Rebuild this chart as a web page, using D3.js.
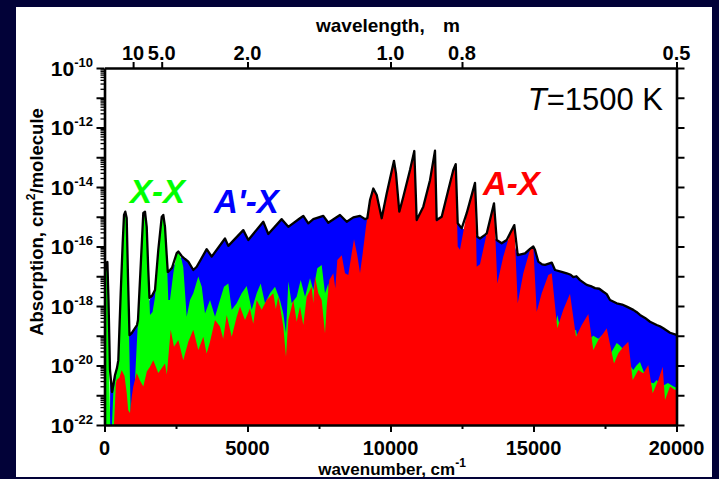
<!DOCTYPE html>
<html><head><meta charset="utf-8">
<script src="https://cdn.jsdelivr.net/npm/d3@7"></script>
<style>
html,body{margin:0;padding:0;background:#020238;}
svg{display:block;}
text{font-family:"Liberation Sans",Arial,Helvetica,sans-serif;}
</style></head><body>
<svg id="chart" width="719" height="479"></svg>
<script>
// [wavenumber cm^-1, log10(absorption cm^2/molecule)]
const totalAbs = [[10,-16.9],[52,-16.56],[101,-16.52],[140,-17.8],[192,-20.15],[262,-20.89],[367,-20.32],[437,-20.08],[483,-19.82],[566,-17.57],[636,-15.88],[682,-14.94],[727,-14.83],[776,-15.04],[822,-17.03],[874,-18.98],[951,-18.91],[1066,-18.74],[1136,-18.64],[1171,-18.47],[1276,-16.45],[1357,-14.87],[1416,-14.83],[1476,-15.34],[1531,-16.79],[1573,-17.73],[1661,-17.66],[1766,-17.46],[1881,-16.11],[2000,-15.01],[2056,-14.94],[2115,-15.34],[2175,-16.29],[2213,-16.86],[2290,-16.79],[2360,-16.72],[2525,-16.22],[2580,-16.17],[2699,-16.32],[2815,-16.42],[2930,-16.51],[3105,-16.79],[3224,-16.68],[3573,-16.09],[3748,-16.34],[4213,-15.73],[4329,-15.98],[4853,-15.45],[5028,-15.78],[5552,-15.17],[5727,-15.58],[6196,-15.08],[6427,-15.34],[6836,-15.05],[6951,-14.97],[7126,-15.22],[7301,-15.08],[7650,-14.97],[7825,-15.2],[8060,-15.05],[8234,-14.94],[8469,-15.17],[8699,-15.02],[8934,-14.97],[9109,-15.08],[9189,-15.05],[9283,-14.44],[9399,-14.05],[9518,-14.27],[9692,-15.05],[9867,-14.22],[10122,-13.12],[10192,-13.54],[10308,-14.83],[10448,-14.33],[10682,-13.43],[10832,-12.79],[10916,-15.11],[11147,-14.66],[11381,-13.77],[11556,-12.78],[11615,-15.11],[11790,-15.0],[12021,-14.1],[12196,-13.43],[12280,-13.23],[12350,-15.22],[12490,-15.39],[12664,-14.88],[12955,-13.86],[13035,-15.67],[13129,-15.73],[13304,-15.61],[13364,-15.56],[13619,-14.55],[13713,-15.78],[13888,-15.89],[14063,-15.78],[14178,-15.56],[14329,-15.28],[14448,-16.29],[14703,-16.23],[14878,-16.08],[14993,-16.0],[15052,-16.11],[15168,-16.51],[15300,-16.6],[15402,-16.62],[15637,-16.54],[15752,-16.79],[15986,-16.85],[16161,-16.9],[16300,-16.95],[16392,-17.03],[16500,-17.0],[16626,-17.13],[16861,-17.29],[17000,-17.33],[17151,-17.4],[17300,-17.42],[17441,-17.52],[17560,-17.6],[17675,-17.8],[17909,-17.91],[18100,-17.95],[18259,-18.02],[18490,-18.13],[18600,-18.2],[18724,-18.3],[18900,-18.4],[19074,-18.53],[19308,-18.64],[19420,-18.68],[19538,-18.75],[19773,-18.9],[20000,-18.97]];

const apxAbs = [[190,-22.0],[200,-20.3],[262,-20.89],[367,-20.32],[483,-19.95],[600,-19.6],[750,-19.25],[874,-18.98],[951,-18.91],[1066,-18.74],[1241,-18.5],[1416,-18.2],[1573,-17.8],[1766,-17.46],[1881,-17.3],[2000,-17.15],[2115,-17.0],[2231,-16.86],[2360,-16.72],[2525,-16.5],[2699,-16.35],[2815,-16.42],[2930,-16.51],[3105,-16.79],[3224,-16.68],[3573,-16.09],[3748,-16.34],[4213,-15.73],[4329,-15.98],[4853,-15.45],[5028,-15.78],[5552,-15.17],[5727,-15.58],[6196,-15.08],[6427,-15.34],[6836,-15.05],[6951,-14.97],[7126,-15.22],[7301,-15.08],[7650,-14.97],[7825,-15.2],[8060,-15.05],[8234,-14.94],[8469,-15.17],[8699,-15.02],[8934,-14.97],[9109,-15.08],[9189,-15.05],[9283,-15.05],[9518,-15.1],[9692,-15.08],[9867,-14.95],[10122,-14.9],[10308,-14.9],[10682,-15.0],[10916,-15.11],[11381,-15.05],[11615,-15.11],[11790,-15.03],[12196,-15.1],[12350,-15.22],[12490,-15.39],[12664,-15.45],[12955,-15.55],[13035,-15.67],[13129,-15.73],[13304,-15.61],[13619,-15.72],[13713,-15.78],[13888,-15.89],[14063,-15.78],[14329,-15.95],[14448,-16.29],[14703,-16.23],[14878,-16.1],[14993,-16.06],[15052,-16.11],[15168,-16.51],[15300,-16.6],[15402,-16.62],[15637,-16.54],[15752,-16.79],[15986,-16.85],[16161,-16.9],[16300,-16.95],[16392,-17.03],[16500,-17.0],[16626,-17.13],[16861,-17.29],[17000,-17.33],[17151,-17.4],[17300,-17.42],[17441,-17.52],[17560,-17.6],[17675,-17.8],[17909,-17.91],[18100,-17.95],[18259,-18.02],[18490,-18.13],[18600,-18.2],[18724,-18.3],[18900,-18.4],[19074,-18.53],[19308,-18.64],[19420,-18.68],[19538,-18.75],[19773,-18.9],[20000,-18.97]];

const xxAbs = [[0,-22.0],[20,-16.8],[52,-16.6],[101,-16.6],[130,-17.5],[160,-20.0],[200,-22.0],[260,-22.0],[308,-20.92],[483,-19.82],[566,-17.57],[636,-15.88],[682,-14.94],[727,-14.83],[776,-15.04],[822,-17.03],[867,-19.38],[916,-21.6],[951,-21.6],[1066,-20.5],[1171,-18.47],[1276,-16.45],[1357,-14.87],[1416,-14.83],[1476,-15.34],[1531,-16.79],[1591,-18.3],[1680,-18.2],[1766,-17.7],[1881,-16.11],[2000,-15.01],[2056,-14.94],[2115,-15.34],[2175,-16.29],[2231,-17.8],[2290,-17.8],[2406,-16.9],[2525,-16.22],[2580,-16.17],[2699,-16.45],[2755,-16.7],[2874,-18.36],[2990,-17.8],[3105,-17.57],[3280,-17.01],[3400,-17.35],[3514,-18.25],[3689,-17.8],[3864,-18.36],[4038,-17.8],[4178,-17.35],[4329,-17.24],[4448,-18.13],[4622,-17.91],[4797,-17.57],[4972,-17.33],[5147,-18.13],[5322,-17.57],[5461,-17.24],[5612,-17.91],[5787,-17.57],[5962,-17.35],[6136,-17.8],[6252,-18.25],[6346,-18.92],[6427,-17.18],[6545,-17.91],[6720,-17.69],[6860,-17.13],[7011,-17.69],[7185,-17.07],[7301,-17.46],[7441,-16.73],[7594,-16.62],[7710,-17.57],[7825,-17.24],[7885,-18.02],[8119,-17.8],[8500,-18.3],[9000,-18.5],[10000,-18.3],[11000,-18.5],[12000,-18.6],[13000,-18.7],[14000,-18.9],[15000,-19.2],[15700,-19.0],[15832,-18.3],[15900,-18.6],[16200,-19.0],[16486,-18.8],[16600,-19.4],[17091,-19.0],[17266,-19.1],[17441,-18.95],[17560,-19.0],[17700,-19.6],[17909,-19.24],[18000,-19.31],[18140,-19.45],[18300,-19.9],[18490,-20.15],[18600,-20.0],[18724,-19.88],[18850,-20.2],[19000,-20.55],[19200,-20.6],[19308,-20.49],[19500,-20.7],[19700,-20.59],[19900,-20.71],[20000,-20.75]];

const axAbs = [[330,-22.0],[400,-20.6],[427,-20.49],[520,-20.4],[601,-20.15],[700,-20.35],[776,-20.92],[830,-21.5],[892,-21.6],[960,-21.0],[1007,-20.71],[1126,-20.25],[1240,-20.5],[1357,-20.71],[1480,-20.2],[1591,-20.04],[1706,-19.82],[1881,-20.25],[2115,-19.93],[2180,-20.3],[2250,-19.5],[2315,-18.8],[2430,-19.37],[2580,-19.14],[2755,-19.82],[2930,-19.2],[3105,-18.8],[3280,-19.48],[3455,-19.03],[3570,-19.6],[3689,-19.2],[3864,-18.47],[4038,-18.69],[4150,-19.1],[4273,-18.3],[4448,-19.03],[4622,-18.36],[4738,-18.02],[4913,-18.47],[5087,-18.08],[5200,-18.6],[5322,-17.8],[5496,-18.13],[5671,-17.8],[5902,-17.57],[5990,-18.1],[6077,-17.69],[6136,-18.02],[6252,-18.69],[6346,-19.71],[6427,-18.47],[6601,-17.8],[6720,-18.53],[6836,-18.02],[6951,-18.64],[7070,-17.69],[7245,-17.35],[7300,-17.9],[7360,-17.01],[7476,-17.57],[7594,-17.8],[7710,-18.92],[7769,-18.02],[7860,-17.13],[8000,-16.9],[8070,-17.4],[8140,-16.45],[8294,-16.29],[8409,-16.9],[8525,-16.96],[8643,-16.23],[8724,-15.76],[8839,-16.29],[8934,-16.9],[9028,-16.23],[9143,-15.33],[9283,-14.44],[9399,-14.05],[9518,-14.3],[9692,-15.05],[9867,-14.22],[10122,-13.12],[10192,-13.54],[10308,-14.83],[10448,-14.33],[10682,-13.43],[10832,-12.79],[10916,-15.17],[11147,-14.66],[11381,-13.77],[11556,-12.78],[11615,-15.17],[11790,-15.0],[12021,-14.1],[12196,-13.43],[12280,-13.23],[12350,-16.0],[12430,-16.11],[12664,-14.88],[12955,-13.86],[13014,-16.68],[13129,-16.6],[13364,-15.56],[13619,-14.55],[13734,-17.24],[13944,-16.34],[14178,-15.56],[14329,-15.28],[14448,-17.91],[14643,-16.9],[14878,-16.11],[14993,-16.0],[15112,-18.19],[15287,-17.57],[15518,-16.96],[15637,-16.9],[15832,-18.75],[16042,-18.13],[16276,-17.59],[16486,-19.03],[16686,-18.64],[16917,-18.27],[17091,-19.48],[17266,-19.14],[17441,-18.92],[17560,-18.75],[17815,-19.93],[17965,-19.59],[18140,-19.37],[18315,-19.2],[18469,-20.49],[18664,-20.15],[18839,-20.26],[19014,-19.98],[19168,-20.93],[19364,-20.49],[19518,-20.04],[19598,-21.16],[19773,-20.71],[19948,-20.82],[20000,-20.8]];

const wavenumberTicks = [0, 5000, 10000, 15000, 20000];
const wavenumberMinor = [2500, 7500, 12500, 17500];
const wavelengthTicks = [10, 5, 2, 1, 0.8, 0.5];
const wavelengthLabels = ["10", "5.0", "2.0", "1.0", "0.8", "0.5"];
const decadeExps = d3.range(-22, -9);
const labelExps = [-22, -20, -18, -16, -14, -12, -10];

const svg = d3.select("#chart");
const W = 719, H = 479;
svg.append("rect").attr("width", W).attr("height", H).attr("fill", "#020238");
const defs = svg.append("defs");
defs.append("clipPath").attr("id", "panelClip").append("rect")
  .attr("x", 16).attr("y", 7).attr("width", 696).attr("height", 470);
const panel = svg.append("g").attr("clip-path", "url(#panelClip)");
panel.append("rect").attr("x", 16).attr("y", 7).attr("width", 696).attr("height", 470).attr("fill", "#ffffff");

const x = d3.scaleLinear().domain([0, 20000]).range([104.5, 676.5]);
const y = d3.scaleLog().domain([1e-22, 1e-10]).range([425, 68]);
const val = d => Math.pow(10, d[1]);

defs.append("clipPath").attr("id", "plotClip").append("rect")
  .attr("x", 104.5).attr("y", 68).attr("width", 572).attr("height", 357);
const plot = panel.append("g").attr("clip-path", "url(#plotClip)");

const area = d3.area().x(d => x(d[0])).y0(y(1e-22)).y1(d => y(val(d)));
const line = d3.line().x(d => x(d[0])).y(d => y(val(d)));

plot.append("path").datum(apxAbs).attr("d", area).attr("fill", "#0000ff");
plot.append("path").datum(xxAbs).attr("d", area).attr("fill", "#00ff00");
plot.append("path").datum(axAbs).attr("d", area).attr("fill", "#ff0000");
plot.append("path").datum(totalAbs).attr("d", line).attr("fill", "none")
  .attr("stroke", "#000").attr("stroke-width", 2.3).attr("stroke-linejoin", "round");

// axes
const decades = decadeExps.map(e => Math.pow(10, e));
const minors = [];
decadeExps.slice(0, -1).forEach(e => { for (let k = 2; k <= 9; k++) minors.push(k * Math.pow(10, e)); });

function styleAxis(g) {
  g.select(".domain").attr("stroke", "#000").attr("stroke-width", 2.6);
  g.selectAll(".tick line").attr("stroke", "#000").attr("stroke-width", 2);
  g.selectAll(".tick text").remove();
}
panel.append("g").attr("transform", "translate(104.5,0)")
  .call(d3.axisLeft(y).tickValues(minors).tickSize(4).tickSizeOuter(0).tickFormat(""))
  .call(g => { g.select(".domain").remove(); g.selectAll(".tick line").attr("stroke", "#000").attr("stroke-width", 1.3); g.selectAll(".tick text").remove(); });
panel.append("g").attr("transform", "translate(104.5,0)")
  .call(d3.axisLeft(y).tickValues(decades).tickSize(8).tickSizeOuter(0).tickFormat(""))
  .call(styleAxis);
panel.append("g").attr("transform", "translate(676.5,0)")
  .call(d3.axisRight(y).tickValues(decades).tickSize(8).tickSizeOuter(0).tickFormat(""))
  .call(styleAxis);
panel.append("g").attr("transform", "translate(0,425)")
  .call(d3.axisBottom(x).tickValues(wavenumberMinor).tickSize(4).tickSizeOuter(0).tickFormat(""))
  .call(g => { g.select(".domain").remove(); g.selectAll(".tick line").attr("stroke", "#000").attr("stroke-width", 2); g.selectAll(".tick text").remove(); });
panel.append("g").attr("transform", "translate(0,425)")
  .call(d3.axisBottom(x).tickValues(wavenumberTicks).tickSize(7).tickSizeOuter(0).tickFormat(""))
  .call(styleAxis);
panel.append("g").attr("transform", "translate(0,68)")
  .call(d3.axisTop(x).tickValues(wavelengthTicks.map(l => 10000 / l)).tickSize(6).tickSizeOuter(0).tickFormat(""))
  .call(styleAxis);

// tick labels
panel.selectAll("text.xlab").data(wavenumberTicks).enter().append("text")
  .attr("x", d => x(d)).attr("y", 455).attr("text-anchor", "middle")
  .attr("font-size", 20).attr("font-weight", "bold").text(d => d);
panel.selectAll("text.tlab").data(wavelengthTicks).enter().append("text")
  .attr("x", d => x(10000 / d)).attr("y", 60).attr("text-anchor", "middle")
  .attr("font-size", 20).attr("font-weight", "bold").text((d, i) => wavelengthLabels[i]);
labelExps.forEach(e => {
  const t = panel.append("text").attr("x", 93).attr("y", y(Math.pow(10, e)) + 7.5)
    .attr("text-anchor", "end").attr("font-weight", "bold");
  t.append("tspan").attr("font-size", 21).text("10");
  t.append("tspan").attr("font-size", 13).attr("dy", -9).text(String(e));
});

// titles
const bt = panel.append("text").attr("x", 392).attr("y", 475).attr("text-anchor", "middle")
  .attr("font-size", 17).attr("font-weight", "bold");
bt.append("tspan").text("wavenumber, cm");
bt.append("tspan").attr("font-size", 12).attr("dy", -8).text("-1");

const tt = panel.append("text").attr("y", 32).attr("font-size", 19).attr("font-weight", "bold");
tt.append("tspan").attr("x", 316).text("wavelength,");
tt.append("tspan").attr("x", 443).text("m");

const lt = panel.append("text").attr("transform", "translate(43,222) rotate(-90)")
  .attr("text-anchor", "middle").attr("font-size", 18.5).attr("font-weight", "bold");
lt.append("tspan").text("Absorption, cm");
lt.append("tspan").attr("font-size", 12).attr("dy", -8).text("2");
lt.append("tspan").attr("dy", 8).text("/molecule");

const tl = panel.append("text").attr("x", 663).attr("y", 110).attr("text-anchor", "end").attr("font-size", 31);
tl.append("tspan").attr("font-style", "italic").text("T");
tl.append("tspan").text("=1500 K");

panel.append("text").attr("x", 130).attr("y", 203).attr("font-size", 33).attr("font-weight", "bold")
  .attr("font-style", "italic").attr("fill", "#00ff00").text("X-X");
panel.append("text").attr("x", 214).attr("y", 213).attr("font-size", 33).attr("font-weight", "bold")
  .attr("font-style", "italic").attr("fill", "#0000ff").text("A'-X");
panel.append("text").attr("x", 483).attr("y", 195).attr("font-size", 33).attr("font-weight", "bold")
  .attr("font-style", "italic").attr("fill", "#ff0000").text("A-X");
</script>
</body></html>
